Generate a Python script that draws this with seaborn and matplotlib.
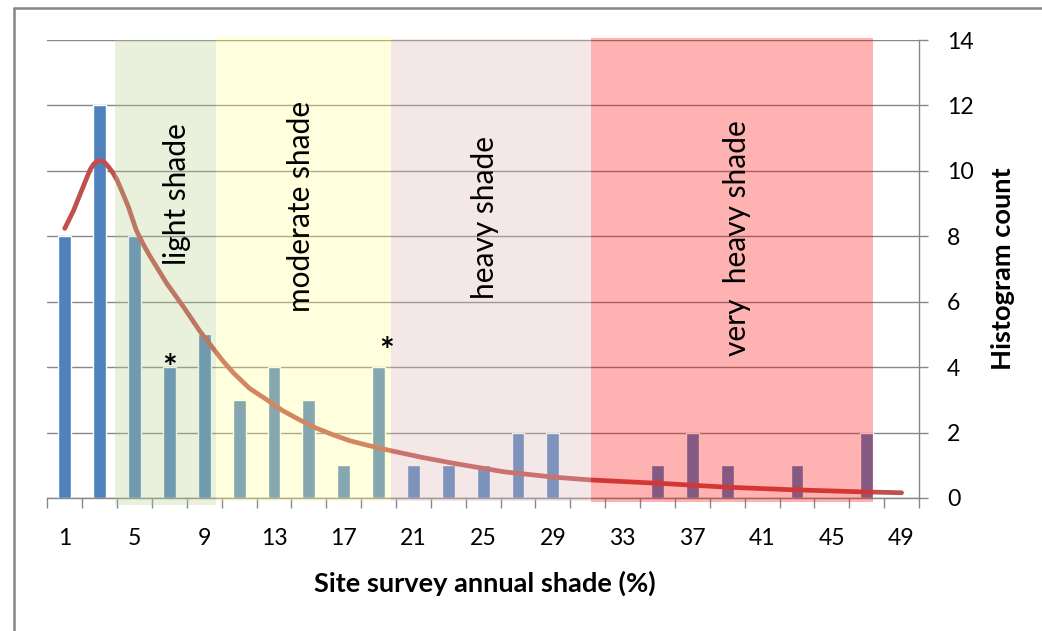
import numpy as np
import pandas as pd
import matplotlib
matplotlib.use("Agg")
import matplotlib.pyplot as plt
from matplotlib.patches import Rectangle
from matplotlib.lines import Line2D
import seaborn as sns

# Histogram of site-survey annual shade (bin centres, %)
shade_pct = [1, 3, 5, 7, 9, 11, 13, 15, 17, 19, 21, 23, 25,
             27, 29, 31, 33, 35, 37, 39, 41, 43, 45, 47, 49]
counts = [8, 12, 8, 4, 5, 3, 4, 3, 1, 4, 1, 1, 1,
          2, 2, 0, 0, 1, 2, 1, 0, 1, 0, 2, 0]

# Fitted distribution curve (shade %, expected count)
fit_pct = [1, 1.5, 1.9, 2.45, 2.65, 2.85, 3, 3.15, 3.3, 3.5, 3.75, 4,
           4.3, 4.65, 5.1, 5.5, 5.9, 6.85, 7.8, 8.75, 9.5, 10.1, 10.7,
           11.6, 12.6, 13.5, 14.5, 15.45, 16.4, 17.35, 18.3, 19.75, 21.5,
           23.3, 26.2, 29, 31.2, 35.4, 39, 42.8, 46.6, 49]
fit_count = [8.24, 8.78, 9.31, 10.03, 10.2, 10.29, 10.31, 10.3, 10.25,
             10.13, 9.95, 9.72, 9.35, 8.9, 8.19, 7.76, 7.38, 6.56, 5.85,
             5.1, 4.58, 4.17, 3.81, 3.35, 3.0, 2.67, 2.38, 2.13, 1.93,
             1.75, 1.62, 1.44, 1.24, 1.06, 0.80, 0.64, 0.55, 0.44, 0.33,
             0.25, 0.19, 0.16]

tick_labels = ["1", "5", "9", "13", "17", "21", "25", "29",
               "33", "37", "41", "45", "49"]

# Shade classes: (label, from %, to %)
zone_names = ["light shade", "moderate shade", "heavy shade", "very  heavy shade"]
zone_from = [3.88, 9.66, 19.7, 31.2]
zone_to = [9.66, 19.7, 31.2, 47.36]

# bins flagged with an asterisk
flagged_pct = [7, 19]

sns.set_theme(style="white")
plt.rcParams["font.family"] = ["Lato", "DejaVu Sans"]

GREY = "#878787"

fig = plt.figure(figsize=(10.42, 6.31), dpi=100)
fig.patch.set_facecolor("white")
ax = fig.add_axes([0.0454, 0.2108, 0.8366, 0.7258])

df = pd.DataFrame({"shade": [str(v) for v in shade_pct], "count": counts})
sns.barplot(data=df, x="shade", y="count", order=list(df["shade"]),
            color="#4F81BD", saturation=1, width=0.37, ax=ax, zorder=2)


def pos(pct):
    """Bin-centre percent -> categorical position."""
    return (np.asarray(pct, dtype=float) - 1) / 2


ax.plot(pos(fit_pct), fit_count, color="#C0504D", lw=3.4,
        solid_capstyle="round", solid_joinstyle="round", zorder=3)

# translucent class bands over the plot
zone_style = [("#B8D294", 0.31, -0.20, 14.00),
              ("#FFFF94", 0.31, -0.08, 14.13),
              ("#E0B9B9", 0.33, -0.08, 14.02),
              ("#FF0000", 0.30, -0.12, 14.06)]
for lo, hi, (fc, a, y0, y1) in zip(zone_from, zone_to, zone_style):
    x0, x1 = pos(lo), pos(hi)
    ax.add_patch(Rectangle((x0, y0), x1 - x0, y1 - y0, facecolor=fc,
                           alpha=a, lw=0, zorder=4, clip_on=False))

label_xy = [(3.23, 9.29), (6.77, 8.9), (12.05, 8.56), (19.27, 7.95)]
for name, (lx, ly) in zip(zone_names, label_xy):
    ax.text(lx, ly, name, rotation=90, ha="center", va="center",
            fontsize=21.5, color="black", zorder=5)

star_offsets = [(0.02, -0.05), (0.24, 0.47)]
for p, (dx, dy) in zip(flagged_pct, star_offsets):
    i = int(pos(p))
    ax.text(i + dx, counts[i] + dy, "*", ha="center", va="center",
            fontsize=25, fontweight="bold", color="black", zorder=5)

ax.set_xlim(-0.5, 24.5)
ax.set_ylim(0, 14)

ax.set_xticks(np.arange(0, 25, 2))
ax.set_xticklabels(tick_labels)
ax.set_xticks(np.arange(-0.5, 25, 1), minor=True)
ax.tick_params(axis="x", which="major", bottom=True, length=0, pad=21.5,
               labelsize=16.6, labelcolor="black")
ax.tick_params(axis="x", which="minor", bottom=True, length=7.2, width=1,
               color=GREY, direction="out")

ax.yaxis.tick_right()
ax.yaxis.set_label_position("right")
ax.set_yticks(np.arange(0, 15, 2))
ax.tick_params(axis="y", which="major", right=True, left=False, length=6.5,
               width=1, color=GREY, direction="out", pad=13.5,
               labelsize=16.6, labelcolor="black")

ax.yaxis.grid(True, color=GREY, lw=1)
ax.xaxis.grid(False)
ax.set_axisbelow(True)

for side in ("left", "top"):
    ax.spines[side].set_visible(False)
for side in ("right", "bottom"):
    ax.spines[side].set_color(GREY)
    ax.spines[side].set_linewidth(1)

ax.set_xlabel("Site survey annual shade (%)", fontsize=19.6,
              fontweight="bold", color="black")
ax.xaxis.label.set_va("center")
ax.xaxis.set_label_coords(0.502, -0.1856)
ax.set_ylabel("Histogram count", fontsize=19.6, fontweight="bold",
              color="black", rotation=90)
ax.yaxis.label.set_va("center")
ax.yaxis.label.set_ha("center")
ax.yaxis.set_label_coords(1.0964, 0.5)

# outer frame (top and left edges)
fig.add_artist(Line2D([0.0134, 1.0], [0.988, 0.988], transform=fig.transFigure,
                      color=GREY, lw=1.8))
fig.add_artist(Line2D([0.0134, 0.0134], [0.0, 0.988], transform=fig.transFigure,
                      color=GREY, lw=1.8))

fig.savefig("out.png", dpi=100, facecolor="white")
